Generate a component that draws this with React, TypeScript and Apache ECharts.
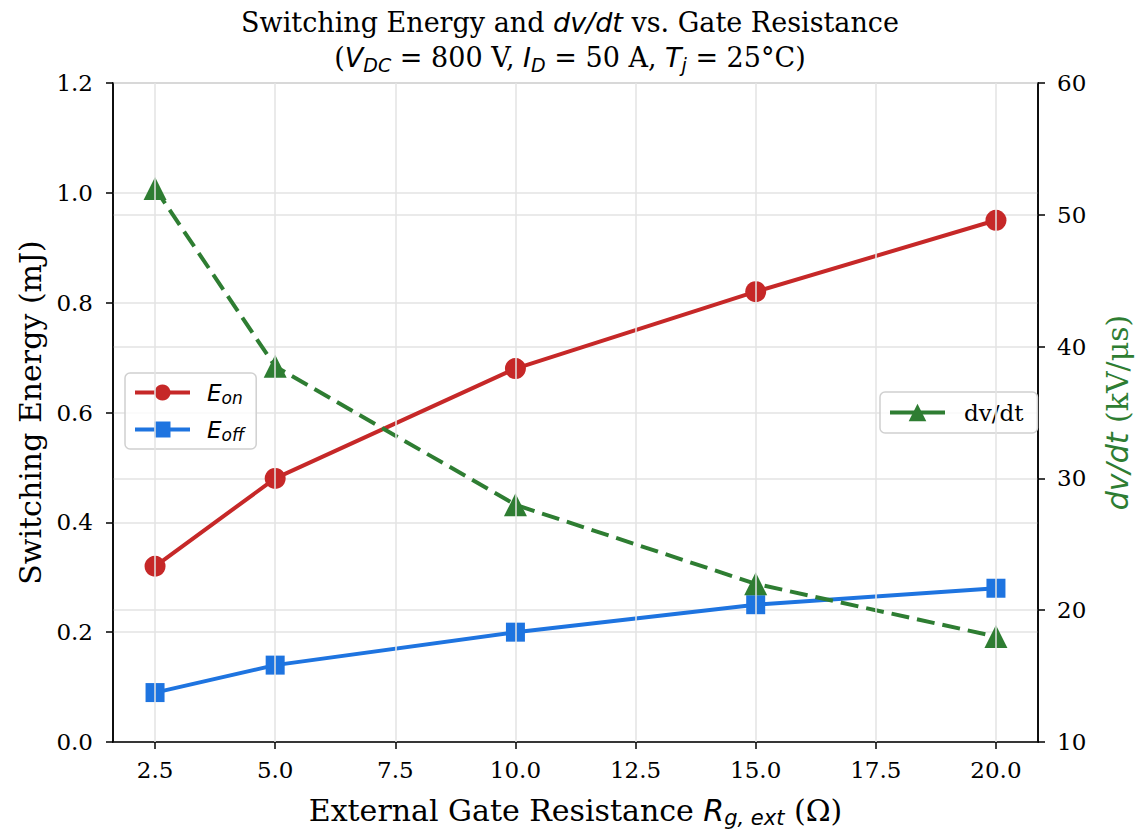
import React, { useEffect, useRef } from "react";
import * as echarts from "echarts";

const rg = [2.5, 5, 10, 15, 20];
const eOn = [0.32, 0.48, 0.68, 0.82, 0.95];
const eOff = [0.09, 0.14, 0.2, 0.25, 0.28];
const dvdt = [52, 38.5, 28, 22, 18];
const xTicks = [2.5, 5, 7.5, 10, 12.5, 15, 17.5, 20];

const SERIF = "DejaVu Serif";
const SANS = "DejaVu Sans";
const TFS = 27;
const LFS = 30;
const TICK = 23;

export default function App() {
  const ref = useRef<HTMLDivElement>(null);
  useEffect(() => {
    if (!ref.current) return;
    const chart = echarts.init(ref.current, null, { renderer: "svg" });
    const pair = (xs: number[], ys: number[]) => xs.map((x, i) => [x, ys[i]]);
    const rich = (color: string, fs: number, sfs: number, pad: number) => ({
      a: { fontFamily: SERIF, fontSize: fs, fontWeight: "normal", color },
      i: { fontFamily: SANS, fontStyle: "italic", fontWeight: "normal", fontSize: fs, color },
      sub: {
        fontFamily: SANS,
        fontStyle: "italic",
        fontWeight: "normal",
        fontSize: sfs,
        color,
        padding: [pad, 0, 0, 0],
      },
    });
    chart.setOption({
      animation: false,
      backgroundColor: "#fff",
      title: [
        {
          text: "{a|Switching Energy and }{i|dv/dt}{a| vs. Gate Resistance}",
          left: "center",
          top: 4,
          textStyle: { fontWeight: "normal", rich: rich("#000", TFS, 19, 14) },
        },
        {
          text: "{a|(}{i|V}{sub|DC}{a| = 800 V, }{i|I}{sub|D}{a| = 50 A, }{i|T}{sub|j}{a| = 25°C)}",
          left: "center",
          top: 36,
          textStyle: { fontWeight: "normal", rich: rich("#000", TFS, 19, 14) },
        },
      ],
      grid: {
        left: 113,
        right: 1140 - 1043,
        top: 83,
        bottom: 833 - 745,
        show: true,
        borderColor: "#000",
        borderWidth: 1.5,
        backgroundColor: "transparent",
      },
      legend: [
        {
          data: ["Eon", "Eoff"],
          orient: "vertical",
          left: 125,
          top: 373,
          itemWidth: 55,
          itemHeight: 20,
          itemGap: 12,
          padding: [8, 12, 6, 8],
          borderColor: "#d0d0d0",
          borderWidth: 1.5,
          borderRadius: 5,
          backgroundColor: "rgba(255,255,255,0.8)",
          lineStyle: { width: 4, type: "solid" },
          formatter: (n: string) => (n === "Eon" ? "{e|E}{s|on}" : "{e|E}{s|off}"),
          textStyle: {
            padding: [0, 0, 0, 12],
            rich: {
              e: { fontFamily: SANS, fontStyle: "italic", fontSize: 23, color: "#000" },
              s: { fontFamily: SANS, fontStyle: "italic", fontSize: 17, color: "#000", padding: [10, 0, 0, 0] },
            },
          },
        },
        {
          data: ["dv/dt"],
          orient: "vertical",
          left: 880,
          top: 392,
          itemWidth: 55,
          itemHeight: 22,
          padding: [9, 14, 9, 8],
          borderColor: "#d0d0d0",
          borderWidth: 1.5,
          borderRadius: 5,
          backgroundColor: "rgba(255,255,255,0.8)",
          lineStyle: { width: 4, type: "solid" },
          textStyle: { fontFamily: SERIF, fontSize: 23, color: "#000", padding: [0, 0, 0, 14] },
        },
      ],
      xAxis: {
        type: "value",
        min: 1.625,
        max: 20.875,
        name: "{a|External Gate Resistance }{i|R}{sub|g, ext}{a| (Ω)}",
        nameLocation: "middle",
        nameGap: 50,
        nameTextStyle: { rich: rich("#000", LFS, 21, 15) },
        axisLine: { show: true, onZero: false, lineStyle: { color: "#000", width: 1.5 } },
        axisTick: { show: true, length: 7, lineStyle: { color: "#000", width: 1.5 }, customValues: xTicks },
        axisLabel: {
          fontFamily: SERIF,
          fontSize: TICK,
          color: "#000",
          margin: 16,
          customValues: xTicks,
          formatter: (v: number) => v.toFixed(1),
        },
        splitLine: { show: false },
      },
      yAxis: [
        {
          type: "value",
          min: 0,
          max: 1.2,
          interval: 0.2,
          name: "Switching Energy (mJ)",
          nameLocation: "middle",
          nameRotate: 90,
          nameGap: 64,
          nameTextStyle: { fontFamily: SERIF, fontSize: LFS, color: "#000" },
          axisLine: { show: true, lineStyle: { color: "#000", width: 1.5 } },
          axisTick: { show: true, length: 7, lineStyle: { color: "#000", width: 1.5 } },
          axisLabel: {
            fontFamily: SERIF,
            fontSize: TICK,
            color: "#000",
            margin: 20,
            formatter: (v: number) => v.toFixed(1),
          },
          splitLine: { show: true, lineStyle: { color: "#e3e3e3", width: 1.5 } },
        },
        {
          type: "value",
          min: 10,
          max: 60,
          interval: 10,
          position: "right",
          name: "{i|dv/dt}{a| (kV/μs)}",
          nameLocation: "middle",
          nameRotate: 90,
          nameGap: 64,
          nameTextStyle: {
            rich: {
              a: { fontFamily: SERIF, fontSize: LFS, color: "#2e7d32" },
              i: { fontFamily: SANS, fontStyle: "italic", fontSize: LFS, color: "#2e7d32" },
            },
          },
          axisLine: { show: true, lineStyle: { color: "#000", width: 1.5 } },
          axisTick: { show: true, length: 7, lineStyle: { color: "#000", width: 1.5 } },
          axisLabel: { fontFamily: SERIF, fontSize: TICK, color: "#000", margin: 19 },
          splitLine: { show: true, lineStyle: { color: "#e3e3e3", width: 1.5 } },
        },
      ],
      series: [
        {
          name: "grid",
          type: "line",
          data: [],
          z: 0,
          silent: true,
          markLine: {
            silent: true,
            symbol: "none",
            label: { show: false },
            lineStyle: { color: "#e3e3e3", width: 1.5, type: "solid" },
            data: xTicks.map((x) => ({ xAxis: x })),
          },
        },
        {
          name: "Eon",
          type: "line",
          data: pair(rg, eOn),
          yAxisIndex: 0,
          symbol: "circle",
          symbolSize: 21,
          color: "#c62828",
          lineStyle: { color: "#c62828", width: 4 },
          itemStyle: { color: "#c62828" },
          z: 3,
        },
        {
          name: "Eoff",
          type: "line",
          data: pair(rg, eOff),
          yAxisIndex: 0,
          symbol: "rect",
          symbolSize: 19,
          color: "#1e74e0",
          lineStyle: { color: "#1e74e0", width: 4 },
          itemStyle: { color: "#1e74e0" },
          z: 3,
        },
        {
          name: "dv/dt",
          type: "line",
          data: pair(rg, dvdt),
          yAxisIndex: 1,
          symbol: "triangle",
          symbolSize: 23,
          color: "#2e7d32",
          lineStyle: { color: "#2e7d32", width: 4, type: [18, 8] },
          itemStyle: { color: "#2e7d32" },
          z: 3,
        },
      ],
    });
    return () => chart.dispose();
  }, []);
  return (
    <div
      ref={ref}
      style={{ position: "fixed", left: 0, top: 0, width: 1140, height: 833, background: "#fff" }}
    />
  );
}
